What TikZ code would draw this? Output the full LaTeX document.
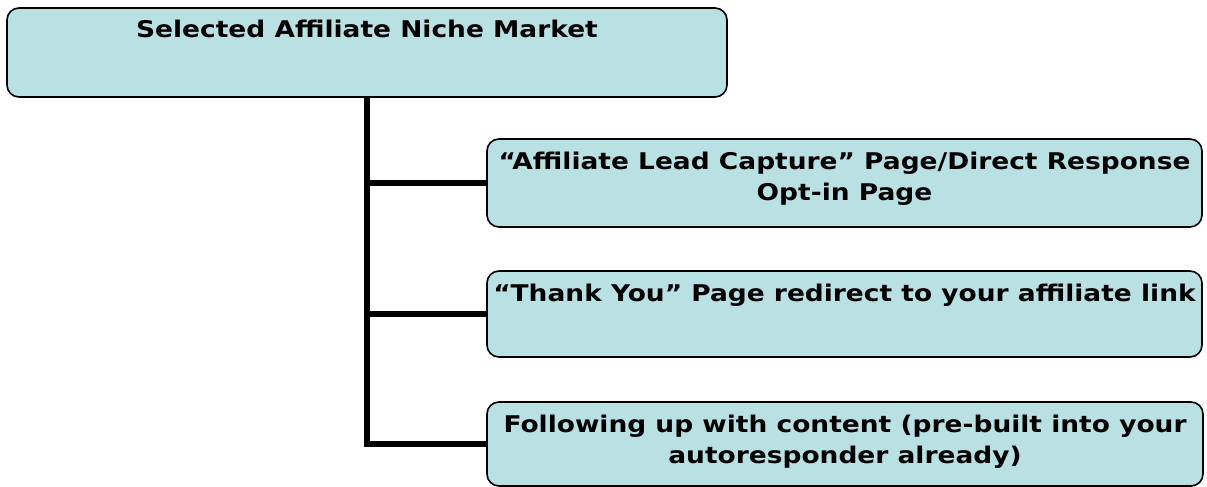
\documentclass[tikz,border=0pt]{standalone}
\usepackage{fontspec}
\setmainfont[FakeStretch=1.15]{DejaVu Sans}
\definecolor{boxfill}{HTML}{B9E0E3}
\tikzset{
  box/.style={draw=black, line width=1.6pt, fill=boxfill, rounded corners=12pt, inner sep=0pt},
  lbl/.style={font=\bfseries\fontsize{23}{31}\selectfont, align=center, inner sep=0pt, anchor=north},
  link/.style={line width=5.5pt}
}
\begin{document}
\begin{tikzpicture}[x=1pt,y=-1pt]
\useasboundingbox (0,0) rectangle (1207,487);
\node[box, minimum width=720pt, minimum height=89pt] (top) at (367,52.5) {};
\node[box, minimum width=715pt, minimum height=88pt] (b1) at (844.5,183) {};
\node[box, minimum width=715pt, minimum height=86pt] (b2) at (844.5,314) {};
\node[box, minimum width=716pt, minimum height=84pt] (b3) at (845,444) {};
\draw[link] (top.south) |- (b3.west);
\draw[link] (top.south |- b1.west) -- (b1.west);
\draw[link] (top.south |- b2.west) -- (b2.west);
\node[lbl] (toptext) at ([yshift=-13pt]top.north) {Selected Affiliate Niche Market};
\node[lbl] (b1text) at ([yshift=-14pt]b1.north) {“Affiliate Lead Capture” Page/Direct Response\\Opt-in Page};
\node[lbl] (b2text) at ([yshift=-14pt]b2.north) {“Thank You” Page redirect to your affiliate link};
\node[lbl] (b3text) at ([yshift=-14pt]b3.north) {Following up with content (pre-built into your\\autoresponder already)};
\end{tikzpicture}
\end{document}
